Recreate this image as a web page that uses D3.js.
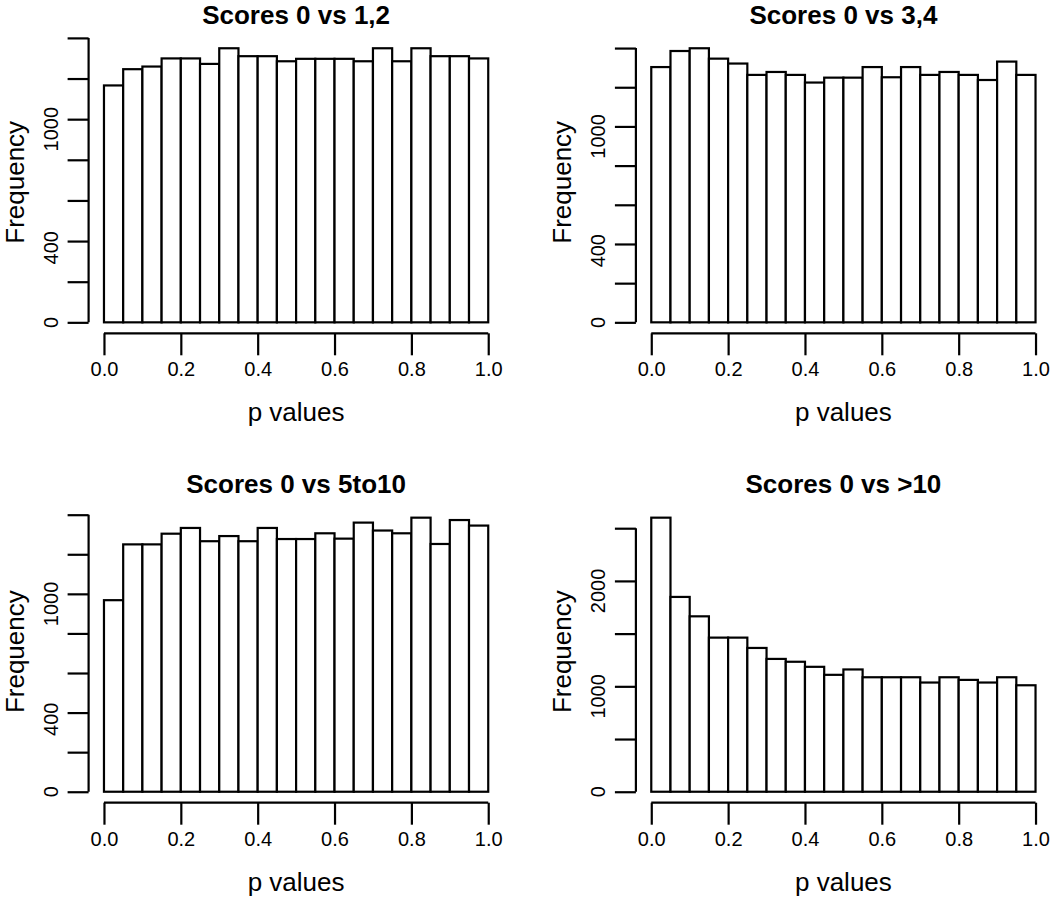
<!DOCTYPE html>
<html>
<head>
<meta charset="utf-8">
<script src="https://cdn.jsdelivr.net/npm/d3@7"></script>
<style>
  html, body { margin: 0; padding: 0; background: #fff; }
  svg { display: block; }
  text { font-family: "Liberation Sans", Arial, Helvetica, sans-serif; fill: #000; }
</style>
</head>
<body>
<svg id="chart" width="1050" height="897"></svg>
<script>
// ---- data ----
const titles = ["Scores 0 vs 1,2", "Scores 0 vs 3,4", "Scores 0 vs 5to10", "Scores 0 vs >10"];
const binEdges = d3.range(0, 21).map(i => i / 20);
const counts12 = [1166,1246,1259,1299,1299,1272,1349,1310,1310,1285,1297,1297,1297,1285,1349,1285,1349,1310,1310,1299];
const counts34 = [1303,1385,1399,1346,1321,1263,1278,1263,1224,1249,1249,1303,1251,1303,1263,1278,1263,1237,1331,1263];
const counts5to10 = [968,1250,1250,1304,1333,1266,1292,1266,1333,1277,1277,1306,1279,1360,1320,1306,1385,1252,1373,1345];
const countsGt10 = [2600,1848,1664,1462,1462,1364,1260,1233,1185,1109,1160,1086,1086,1086,1036,1086,1061,1036,1086,1010];
const seriesList = [counts12, counts34, counts5to10, countsGt10];
const xTicks = [0, 0.2, 0.4, 0.6, 0.8, 1.0];
const xTickLabels = ["0.0", "0.2", "0.4", "0.6", "0.8", "1.0"];
const yTicksSmall = [0, 200, 400, 600, 800, 1000, 1200, 1400];
const yTickLabelsSmall = ["0", "", "400", "", "", "1000", "", ""];
const yTicksLarge = [0, 500, 1000, 1500, 2000, 2500];
const yTickLabelsLarge = ["0", "", "1000", "", "2000", ""];
const yTicksList = [yTicksSmall, yTicksSmall, yTicksSmall, yTicksLarge];
const yTickLabelsList = [yTickLabelsSmall, yTickLabelsSmall, yTickLabelsSmall, yTickLabelsLarge];
const xLabel = "p values";
const yLabel = "Frequency";

// ---- layout ----
const svg = d3.select("#chart");
const plotW = 415.0, plotH = 296.0;
const lefts = [88.6, 635.9];
const tops = [37.3, 506.7];

seriesList.forEach((counts, i) => {
  const left = lefts[i % 2], top = tops[Math.floor(i / 2)];
  const g = svg.append("g");
  const ymax = d3.max(counts);
  const x = d3.scaleLinear().domain([-0.04, 1.04]).range([left, left + plotW]);
  const y = d3.scaleLinear().domain([-0.04 * ymax, 1.04 * ymax]).range([top + plotH, top]);

  // bars
  g.selectAll("rect.bar").data(counts).join("rect")
    .attr("class", "bar")
    .attr("x", (d, j) => x(binEdges[j]))
    .attr("width", (d, j) => x(binEdges[j + 1]) - x(binEdges[j]))
    .attr("y", d => y(d))
    .attr("height", d => y(0) - y(d))
    .attr("fill", "#fff")
    .attr("stroke", "#000")
    .attr("stroke-width", 2.2);

  // x axis
  const xAxisG = g.append("g").attr("transform", `translate(0,${top + plotH})`)
    .call(d3.axisBottom(x).tickValues(xTicks).tickFormat((d, k) => xTickLabels[k])
      .tickSizeOuter(0).tickSizeInner(22).tickPadding(28));
  xAxisG.select(".domain").attr("d", `M${x(0)},0H${x(1)}`).attr("stroke-width", 2.2);
  xAxisG.selectAll(".tick line").attr("stroke-width", 2.2);
  xAxisG.selectAll(".tick text").attr("font-size", 20).attr("dy", "0.71em")
    .attr("y", 29);

  // y axis
  const yT = yTicksList[i], yL = yTickLabelsList[i];
  const yAxisG = g.append("g").attr("transform", `translate(${left},0)`)
    .call(d3.axisLeft(y).tickValues(yT).tickFormat(() => "").tickSizeOuter(0).tickSizeInner(21));
  yAxisG.select(".domain").attr("d", `M0,${y(yT[0])}V${y(yT[yT.length - 1])}`).attr("stroke-width", 2.2);
  yAxisG.selectAll(".tick line").attr("stroke-width", 2.2);
  yAxisG.selectAll(".tick text").remove();
  yT.forEach((v, k) => {
    if (!yL[k]) return;
    const t = g.append("text")
      .attr("font-size", 20)
      .attr("text-anchor", "middle")
      .text(yL[k]);
    const L = t.node().getComputedTextLength();
    const shift = 0.3 * (L - 11);
    t.attr("transform", `translate(${left - 31},${y(v) + shift}) rotate(-90)`);
  });

  // titles and labels
  g.append("text")
    .attr("x", x(0.5)).attr("y", top - 13.5)
    .attr("text-anchor", "middle").attr("font-size", 26).attr("font-weight", "bold")
    .text(titles[i]);
  g.append("text")
    .attr("x", x(0.5)).attr("y", top + plotH + 88)
    .attr("text-anchor", "middle").attr("font-size", 26)
    .text(xLabel);
  g.append("text")
    .attr("transform", `translate(${left - 64.5},${top + plotH / 2 - 3}) rotate(-90)`)
    .attr("text-anchor", "middle").attr("font-size", 26)
    .text(yLabel);
});
</script>
</body>
</html>
